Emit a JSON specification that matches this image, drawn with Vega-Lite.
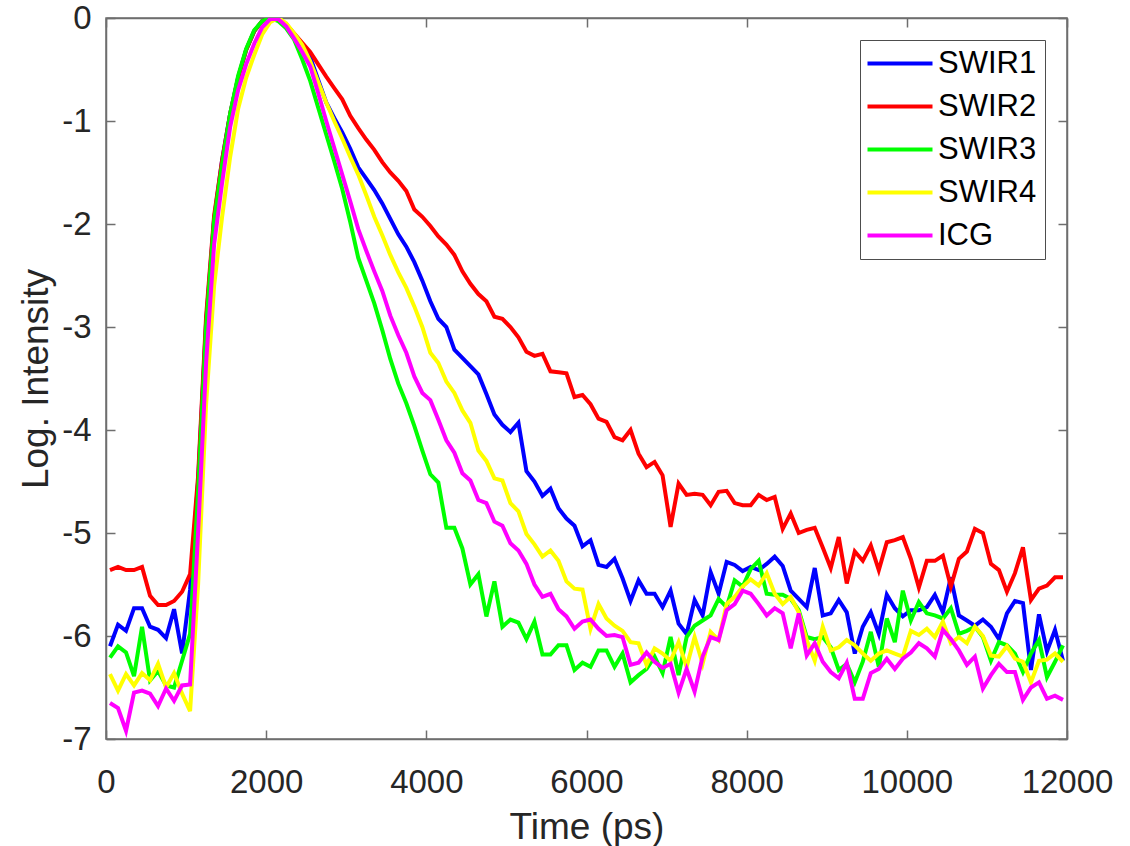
{
  "$schema": "https://vega.github.io/schema/vega-lite/v6.json",
  "width": 961,
  "height": 721,
  "autosize": "none",
  "padding": {"left": 106, "top": 18, "right": 63, "bottom": 107},
  "background": "white",
  "config": {"font": "Liberation Sans", "view": {"stroke": "#6e6e6e", "strokeWidth": 1.5}},
  "data": {"values": [
    {"t":50,"SWIR1":-6.10,"SWIR2":-5.36,"SWIR3":-6.21,"SWIR4":-6.37,"ICG":-6.65},
    {"t":150,"SWIR1":-5.89,"SWIR2":-5.33,"SWIR3":-6.10,"SWIR4":-6.53,"ICG":-6.70},
    {"t":250,"SWIR1":-5.95,"SWIR2":-5.36,"SWIR3":-6.16,"SWIR4":-6.37,"ICG":-6.92},
    {"t":350,"SWIR1":-5.73,"SWIR2":-5.36,"SWIR3":-6.39,"SWIR4":-6.48,"ICG":-6.55},
    {"t":450,"SWIR1":-5.73,"SWIR2":-5.33,"SWIR3":-5.91,"SWIR4":-6.36,"ICG":-6.53},
    {"t":550,"SWIR1":-5.91,"SWIR2":-5.61,"SWIR3":-6.43,"SWIR4":-6.43,"ICG":-6.56},
    {"t":650,"SWIR1":-5.94,"SWIR2":-5.70,"SWIR3":-6.34,"SWIR4":-6.27,"ICG":-6.68},
    {"t":750,"SWIR1":-6.02,"SWIR2":-5.70,"SWIR3":-6.48,"SWIR4":-6.50,"ICG":-6.51},
    {"t":850,"SWIR1":-5.74,"SWIR2":-5.66,"SWIR3":-6.50,"SWIR4":-6.36,"ICG":-6.63},
    {"t":950,"SWIR1":-6.17,"SWIR2":-5.57,"SWIR3":-6.24,"SWIR4":-6.56,"ICG":-6.48},
    {"t":1050,"SWIR1":-5.55,"SWIR2":-5.40,"SWIR3":-5.98,"SWIR4":-6.73,"ICG":-6.47},
    {"t":1150,"SWIR1":-4.50,"SWIR2":-4.45,"SWIR3":-4.60,"SWIR4":-5.50,"ICG":-5.00},
    {"t":1250,"SWIR1":-2.95,"SWIR2":-2.90,"SWIR3":-3.00,"SWIR4":-3.75,"ICG":-3.35},
    {"t":1350,"SWIR1":-1.95,"SWIR2":-1.92,"SWIR3":-1.97,"SWIR4":-2.60,"ICG":-2.20},
    {"t":1450,"SWIR1":-1.38,"SWIR2":-1.38,"SWIR3":-1.42,"SWIR4":-1.93,"ICG":-1.60},
    {"t":1550,"SWIR1":-0.93,"SWIR2":-0.93,"SWIR3":-0.93,"SWIR4":-1.35,"ICG":-1.06},
    {"t":1650,"SWIR1":-0.58,"SWIR2":-0.58,"SWIR3":-0.56,"SWIR4":-0.88,"ICG":-0.70},
    {"t":1750,"SWIR1":-0.31,"SWIR2":-0.31,"SWIR3":-0.30,"SWIR4":-0.58,"ICG":-0.45},
    {"t":1850,"SWIR1":-0.13,"SWIR2":-0.13,"SWIR3":-0.12,"SWIR4":-0.36,"ICG":-0.25},
    {"t":1950,"SWIR1":-0.03,"SWIR2":-0.03,"SWIR3":-0.03,"SWIR4":-0.16,"ICG":-0.09},
    {"t":2050,"SWIR1":0,"SWIR2":0,"SWIR3":0,"SWIR4":-0.04,"ICG":-0.01},
    {"t":2150,"SWIR1":-0.01,"SWIR2":-0.01,"SWIR3":-0.03,"SWIR4":0,"ICG":-0.01},
    {"t":2250,"SWIR1":-0.06,"SWIR2":-0.06,"SWIR3":-0.10,"SWIR4":-0.05,"ICG":-0.08},
    {"t":2350,"SWIR1":-0.16,"SWIR2":-0.15,"SWIR3":-0.21,"SWIR4":-0.15,"ICG":-0.20},
    {"t":2450,"SWIR1":-0.27,"SWIR2":-0.24,"SWIR3":-0.40,"SWIR4":-0.26,"ICG":-0.33},
    {"t":2550,"SWIR1":-0.38,"SWIR2":-0.33,"SWIR3":-0.61,"SWIR4":-0.42,"ICG":-0.47},
    {"t":2650,"SWIR1":-0.60,"SWIR2":-0.45,"SWIR3":-0.87,"SWIR4":-0.62,"ICG":-0.73},
    {"t":2750,"SWIR1":-0.82,"SWIR2":-0.57,"SWIR3":-1.13,"SWIR4":-0.82,"ICG":-1.00},
    {"t":2850,"SWIR1":-0.97,"SWIR2":-0.68,"SWIR3":-1.39,"SWIR4":-1.00,"ICG":-1.26},
    {"t":2950,"SWIR1":-1.11,"SWIR2":-0.79,"SWIR3":-1.66,"SWIR4":-1.17,"ICG":-1.52},
    {"t":3050,"SWIR1":-1.27,"SWIR2":-0.95,"SWIR3":-1.98,"SWIR4":-1.35,"ICG":-1.78},
    {"t":3150,"SWIR1":-1.45,"SWIR2":-1.07,"SWIR3":-2.33,"SWIR4":-1.52,"ICG":-2.05},
    {"t":3250,"SWIR1":-1.56,"SWIR2":-1.18,"SWIR3":-2.55,"SWIR4":-1.72,"ICG":-2.26},
    {"t":3350,"SWIR1":-1.67,"SWIR2":-1.28,"SWIR3":-2.77,"SWIR4":-1.93,"ICG":-2.46},
    {"t":3450,"SWIR1":-1.80,"SWIR2":-1.40,"SWIR3":-3.03,"SWIR4":-2.11,"ICG":-2.65},
    {"t":3550,"SWIR1":-1.95,"SWIR2":-1.50,"SWIR3":-3.31,"SWIR4":-2.30,"ICG":-2.89},
    {"t":3650,"SWIR1":-2.10,"SWIR2":-1.58,"SWIR3":-3.55,"SWIR4":-2.47,"ICG":-3.08},
    {"t":3750,"SWIR1":-2.22,"SWIR2":-1.68,"SWIR3":-3.74,"SWIR4":-2.62,"ICG":-3.25},
    {"t":3850,"SWIR1":-2.37,"SWIR2":-1.86,"SWIR3":-3.96,"SWIR4":-2.80,"ICG":-3.48},
    {"t":3950,"SWIR1":-2.55,"SWIR2":-1.93,"SWIR3":-4.20,"SWIR4":-3.00,"ICG":-3.64},
    {"t":4050,"SWIR1":-2.75,"SWIR2":-2.02,"SWIR3":-4.43,"SWIR4":-3.25,"ICG":-3.71},
    {"t":4150,"SWIR1":-2.92,"SWIR2":-2.12,"SWIR3":-4.51,"SWIR4":-3.35,"ICG":-3.90},
    {"t":4250,"SWIR1":-3.00,"SWIR2":-2.20,"SWIR3":-4.95,"SWIR4":-3.53,"ICG":-4.10},
    {"t":4350,"SWIR1":-3.22,"SWIR2":-2.30,"SWIR3":-4.95,"SWIR4":-3.64,"ICG":-4.22},
    {"t":4450,"SWIR1":-3.30,"SWIR2":-2.46,"SWIR3":-5.15,"SWIR4":-3.81,"ICG":-4.42},
    {"t":4550,"SWIR1":-3.38,"SWIR2":-2.58,"SWIR3":-5.50,"SWIR4":-3.93,"ICG":-4.49},
    {"t":4650,"SWIR1":-3.46,"SWIR2":-2.68,"SWIR3":-5.40,"SWIR4":-4.20,"ICG":-4.68},
    {"t":4750,"SWIR1":-3.65,"SWIR2":-2.75,"SWIR3":-5.81,"SWIR4":-4.30,"ICG":-4.71},
    {"t":4850,"SWIR1":-3.85,"SWIR2":-2.90,"SWIR3":-5.47,"SWIR4":-4.47,"ICG":-4.89},
    {"t":4950,"SWIR1":-3.95,"SWIR2":-2.92,"SWIR3":-5.91,"SWIR4":-4.49,"ICG":-4.93},
    {"t":5050,"SWIR1":-4.02,"SWIR2":-3.00,"SWIR3":-5.84,"SWIR4":-4.71,"ICG":-5.10},
    {"t":5150,"SWIR1":-3.93,"SWIR2":-3.10,"SWIR3":-5.87,"SWIR4":-4.79,"ICG":-5.17},
    {"t":5250,"SWIR1":-4.40,"SWIR2":-3.24,"SWIR3":-6.03,"SWIR4":-5.01,"ICG":-5.30},
    {"t":5350,"SWIR1":-4.50,"SWIR2":-3.28,"SWIR3":-5.86,"SWIR4":-5.11,"ICG":-5.50},
    {"t":5450,"SWIR1":-4.64,"SWIR2":-3.26,"SWIR3":-6.18,"SWIR4":-5.23,"ICG":-5.62},
    {"t":5550,"SWIR1":-4.57,"SWIR2":-3.43,"SWIR3":-6.18,"SWIR4":-5.17,"ICG":-5.59},
    {"t":5650,"SWIR1":-4.76,"SWIR2":-3.44,"SWIR3":-6.09,"SWIR4":-5.27,"ICG":-5.74},
    {"t":5750,"SWIR1":-4.86,"SWIR2":-3.45,"SWIR3":-6.09,"SWIR4":-5.47,"ICG":-5.81},
    {"t":5850,"SWIR1":-4.93,"SWIR2":-3.68,"SWIR3":-6.33,"SWIR4":-5.54,"ICG":-5.93},
    {"t":5950,"SWIR1":-5.13,"SWIR2":-3.66,"SWIR3":-6.26,"SWIR4":-5.55,"ICG":-5.86},
    {"t":6050,"SWIR1":-5.07,"SWIR2":-3.75,"SWIR3":-6.30,"SWIR4":-5.93,"ICG":-5.84},
    {"t":6150,"SWIR1":-5.31,"SWIR2":-3.89,"SWIR3":-6.14,"SWIR4":-5.69,"ICG":-5.93},
    {"t":6250,"SWIR1":-5.33,"SWIR2":-3.92,"SWIR3":-6.14,"SWIR4":-5.83,"ICG":-6.00},
    {"t":6350,"SWIR1":-5.25,"SWIR2":-4.07,"SWIR3":-6.30,"SWIR4":-5.90,"ICG":-5.99},
    {"t":6450,"SWIR1":-5.44,"SWIR2":-4.10,"SWIR3":-6.17,"SWIR4":-5.95,"ICG":-6.01},
    {"t":6550,"SWIR1":-5.66,"SWIR2":-4.00,"SWIR3":-6.45,"SWIR4":-6.06,"ICG":-6.28},
    {"t":6650,"SWIR1":-5.46,"SWIR2":-4.23,"SWIR3":-6.38,"SWIR4":-6.07,"ICG":-6.26},
    {"t":6750,"SWIR1":-5.59,"SWIR2":-4.36,"SWIR3":-6.32,"SWIR4":-6.28,"ICG":-6.16},
    {"t":6850,"SWIR1":-5.59,"SWIR2":-4.31,"SWIR3":-6.20,"SWIR4":-6.12,"ICG":-6.25},
    {"t":6950,"SWIR1":-5.72,"SWIR2":-4.44,"SWIR3":-6.36,"SWIR4":-6.17,"ICG":-6.31},
    {"t":7050,"SWIR1":-5.56,"SWIR2":-4.94,"SWIR3":-6.01,"SWIR4":-6.24,"ICG":-6.27},
    {"t":7150,"SWIR1":-5.88,"SWIR2":-4.52,"SWIR3":-6.38,"SWIR4":-6.06,"ICG":-6.55},
    {"t":7250,"SWIR1":-5.98,"SWIR2":-4.63,"SWIR3":-6.01,"SWIR4":-6.30,"ICG":-6.32},
    {"t":7350,"SWIR1":-5.65,"SWIR2":-4.62,"SWIR3":-5.90,"SWIR4":-6.01,"ICG":-6.54},
    {"t":7450,"SWIR1":-5.80,"SWIR2":-4.63,"SWIR3":-5.85,"SWIR4":-6.27,"ICG":-6.20},
    {"t":7550,"SWIR1":-5.38,"SWIR2":-4.73,"SWIR3":-5.80,"SWIR4":-5.96,"ICG":-6.01},
    {"t":7650,"SWIR1":-5.59,"SWIR2":-4.60,"SWIR3":-5.64,"SWIR4":-6.04,"ICG":-6.04},
    {"t":7750,"SWIR1":-5.28,"SWIR2":-4.59,"SWIR3":-5.72,"SWIR4":-5.69,"ICG":-5.75},
    {"t":7850,"SWIR1":-5.31,"SWIR2":-4.71,"SWIR3":-5.46,"SWIR4":-5.62,"ICG":-5.69},
    {"t":7950,"SWIR1":-5.37,"SWIR2":-4.73,"SWIR3":-5.52,"SWIR4":-5.52,"ICG":-5.56},
    {"t":8050,"SWIR1":-5.33,"SWIR2":-4.73,"SWIR3":-5.35,"SWIR4":-5.45,"ICG":-5.59},
    {"t":8150,"SWIR1":-5.36,"SWIR2":-4.63,"SWIR3":-5.27,"SWIR4":-5.51,"ICG":-5.69},
    {"t":8250,"SWIR1":-5.30,"SWIR2":-4.68,"SWIR3":-5.59,"SWIR4":-5.39,"ICG":-5.80},
    {"t":8350,"SWIR1":-5.23,"SWIR2":-4.65,"SWIR3":-5.60,"SWIR4":-5.59,"ICG":-5.73},
    {"t":8450,"SWIR1":-5.32,"SWIR2":-4.96,"SWIR3":-5.60,"SWIR4":-5.69,"ICG":-5.78},
    {"t":8550,"SWIR1":-5.56,"SWIR2":-4.81,"SWIR3":-5.64,"SWIR4":-5.62,"ICG":-6.12},
    {"t":8650,"SWIR1":-5.64,"SWIR2":-5.00,"SWIR3":-5.75,"SWIR4":-5.77,"ICG":-5.78},
    {"t":8750,"SWIR1":-5.72,"SWIR2":-4.97,"SWIR3":-6.01,"SWIR4":-6.04,"ICG":-6.19},
    {"t":8850,"SWIR1":-5.34,"SWIR2":-4.95,"SWIR3":-6.03,"SWIR4":-6.24,"ICG":-6.07},
    {"t":8950,"SWIR1":-5.80,"SWIR2":-5.14,"SWIR3":-6.01,"SWIR4":-5.91,"ICG":-6.25},
    {"t":9050,"SWIR1":-5.78,"SWIR2":-5.34,"SWIR3":-6.11,"SWIR4":-6.14,"ICG":-6.35},
    {"t":9150,"SWIR1":-5.65,"SWIR2":-5.04,"SWIR3":-6.33,"SWIR4":-6.11,"ICG":-6.41},
    {"t":9250,"SWIR1":-5.77,"SWIR2":-5.49,"SWIR3":-6.27,"SWIR4":-6.04,"ICG":-6.26},
    {"t":9350,"SWIR1":-6.17,"SWIR2":-5.18,"SWIR3":-6.45,"SWIR4":-6.09,"ICG":-6.61},
    {"t":9450,"SWIR1":-5.91,"SWIR2":-5.27,"SWIR3":-6.25,"SWIR4":-6.17,"ICG":-6.61},
    {"t":9550,"SWIR1":-5.77,"SWIR2":-5.12,"SWIR3":-5.96,"SWIR4":-6.24,"ICG":-6.36},
    {"t":9650,"SWIR1":-5.98,"SWIR2":-5.36,"SWIR3":-6.30,"SWIR4":-6.17,"ICG":-6.32},
    {"t":9750,"SWIR1":-5.60,"SWIR2":-5.09,"SWIR3":-5.83,"SWIR4":-6.14,"ICG":-6.22},
    {"t":9850,"SWIR1":-5.73,"SWIR2":-5.07,"SWIR3":-6.06,"SWIR4":-6.17,"ICG":-6.32},
    {"t":9950,"SWIR1":-5.81,"SWIR2":-5.04,"SWIR3":-5.56,"SWIR4":-6.20,"ICG":-6.22},
    {"t":10050,"SWIR1":-5.75,"SWIR2":-5.25,"SWIR3":-5.85,"SWIR4":-5.95,"ICG":-6.16},
    {"t":10150,"SWIR1":-5.75,"SWIR2":-5.53,"SWIR3":-5.67,"SWIR4":-5.99,"ICG":-6.07},
    {"t":10250,"SWIR1":-5.72,"SWIR2":-5.27,"SWIR3":-5.78,"SWIR4":-5.93,"ICG":-6.12},
    {"t":10350,"SWIR1":-5.60,"SWIR2":-5.27,"SWIR3":-5.80,"SWIR4":-6.01,"ICG":-6.20},
    {"t":10450,"SWIR1":-5.77,"SWIR2":-5.22,"SWIR3":-5.83,"SWIR4":-5.86,"ICG":-5.94},
    {"t":10550,"SWIR1":-5.43,"SWIR2":-5.52,"SWIR3":-5.73,"SWIR4":-6.07,"ICG":-6.03},
    {"t":10650,"SWIR1":-5.80,"SWIR2":-5.25,"SWIR3":-5.98,"SWIR4":-6.01,"ICG":-6.14},
    {"t":10750,"SWIR1":-5.85,"SWIR2":-5.18,"SWIR3":-5.95,"SWIR4":-6.07,"ICG":-6.28},
    {"t":10850,"SWIR1":-5.90,"SWIR2":-4.96,"SWIR3":-5.91,"SWIR4":-5.91,"ICG":-6.20},
    {"t":10950,"SWIR1":-5.84,"SWIR2":-5.00,"SWIR3":-6.01,"SWIR4":-6.00,"ICG":-6.51},
    {"t":11050,"SWIR1":-5.91,"SWIR2":-5.30,"SWIR3":-6.24,"SWIR4":-6.19,"ICG":-6.38},
    {"t":11150,"SWIR1":-6.03,"SWIR2":-5.36,"SWIR3":-6.06,"SWIR4":-6.20,"ICG":-6.27},
    {"t":11250,"SWIR1":-5.78,"SWIR2":-5.57,"SWIR3":-6.09,"SWIR4":-6.10,"ICG":-6.35},
    {"t":11350,"SWIR1":-5.66,"SWIR2":-5.39,"SWIR3":-6.17,"SWIR4":-6.22,"ICG":-6.35},
    {"t":11450,"SWIR1":-5.68,"SWIR2":-5.14,"SWIR3":-6.35,"SWIR4":-6.25,"ICG":-6.62},
    {"t":11550,"SWIR1":-6.33,"SWIR2":-5.65,"SWIR3":-6.17,"SWIR4":-6.45,"ICG":-6.50},
    {"t":11650,"SWIR1":-5.79,"SWIR2":-5.54,"SWIR3":-6.04,"SWIR4":-6.24,"ICG":-6.45},
    {"t":11750,"SWIR1":-6.15,"SWIR2":-5.51,"SWIR3":-6.40,"SWIR4":-6.23,"ICG":-6.61},
    {"t":11850,"SWIR1":-5.94,"SWIR2":-5.43,"SWIR3":-6.25,"SWIR4":-6.17,"ICG":-6.58},
    {"t":11950,"SWIR1":-6.24,"SWIR2":-5.43,"SWIR3":-6.09,"SWIR4":-6.25,"ICG":-6.62}
  ]},
  "transform": [{"fold": ["SWIR1", "SWIR2", "SWIR3", "SWIR4", "ICG"], "as": ["series", "v"]}],
  "layer": [
    {
      "mark": {"type": "line", "strokeWidth": 4, "clip": true},
      "encoding": {
        "x": {
          "field": "t", "type": "quantitative",
          "scale": {"domain": [0, 12000], "nice": false, "zero": false},
          "axis": {
            "orient": "bottom", "values": [0, 2000, 4000, 6000, 8000, 10000, 12000],
            "grid": false, "tickSize": -9, "tickColor": "#6e6e6e", "tickWidth": 1.5,
            "domainColor": "#6e6e6e", "domainWidth": 1.5,
            "labelFontSize": 33, "labelColor": "#262626", "labelPadding": 36,
            "labelFlush": false, "labelOverlap": false, "format": "d",
            "title": "Time (ps)", "titleFontSize": 37, "titleFontWeight": "normal",
            "titleColor": "#262626", "titleY": 99, "titleBaseline": "alphabetic"
          }
        },
        "y": {
          "field": "v", "type": "quantitative",
          "scale": {"domain": [-7, 0], "nice": false, "zero": false},
          "axis": {
            "orient": "left", "values": [-7, -6, -5, -4, -3, -2, -1, 0],
            "grid": false, "tickSize": -9, "tickColor": "#6e6e6e", "tickWidth": 1.5,
            "domainColor": "#6e6e6e", "domainWidth": 1.5,
            "labelFontSize": 33, "labelColor": "#262626", "labelPadding": 24,
            "labelFlush": false, "labelOverlap": false,
            "labelExpr": "datum.value < 0 ? '-' + abs(datum.value) : '' + datum.value",
            "title": "Log. Intensity", "titleFontSize": 37, "titleFontWeight": "normal",
            "titleColor": "#262626", "titleX": -59, "titleBaseline": "alphabetic"
          }
        },
        "color": {
          "field": "series", "type": "nominal",
          "scale": {"domain": ["SWIR1", "SWIR2", "SWIR3", "SWIR4", "ICG"], "range": ["#0000ff", "#ff0000", "#00ff00", "#ffff00", "#ff00ff"]},
          "legend": {
            "orient": "none", "legendX": 754, "legendY": 22, "title": null,
            "symbolType": "M-3.2,0L9.8,0", "symbolSize": 100, "symbolStrokeWidth": 4,
            "labelOffset": 39, "labelFontSize": 31, "labelColor": "#000000",
            "rowPadding": 11, "padding": 8, "strokeColor": "#4d4d4d", "fillColor": "white",
            "labelLimit": 300
          }
        }
      }
    },
    {
      "mark": {"type": "point", "opacity": 0},
      "encoding": {
        "x": {
          "field": "t", "type": "quantitative",
          "scale": {"domain": [0, 12000], "nice": false, "zero": false},
          "axis": {"orient": "top", "values": [0, 2000, 4000, 6000, 8000, 10000, 12000], "grid": false, "labels": false, "title": null, "tickSize": -9, "tickColor": "#6e6e6e", "tickWidth": 1.5, "domainColor": "#6e6e6e", "domainWidth": 1.5}
        },
        "y": {
          "field": "v", "type": "quantitative",
          "scale": {"domain": [-7, 0], "nice": false, "zero": false},
          "axis": {"orient": "right", "values": [-7, -6, -5, -4, -3, -2, -1, 0], "grid": false, "labels": false, "title": null, "tickSize": -9, "tickColor": "#6e6e6e", "tickWidth": 1.5, "domainColor": "#6e6e6e", "domainWidth": 1.5}
        }
      }
    }
  ],
  "resolve": {"axis": {"x": "independent", "y": "independent"}}
}
